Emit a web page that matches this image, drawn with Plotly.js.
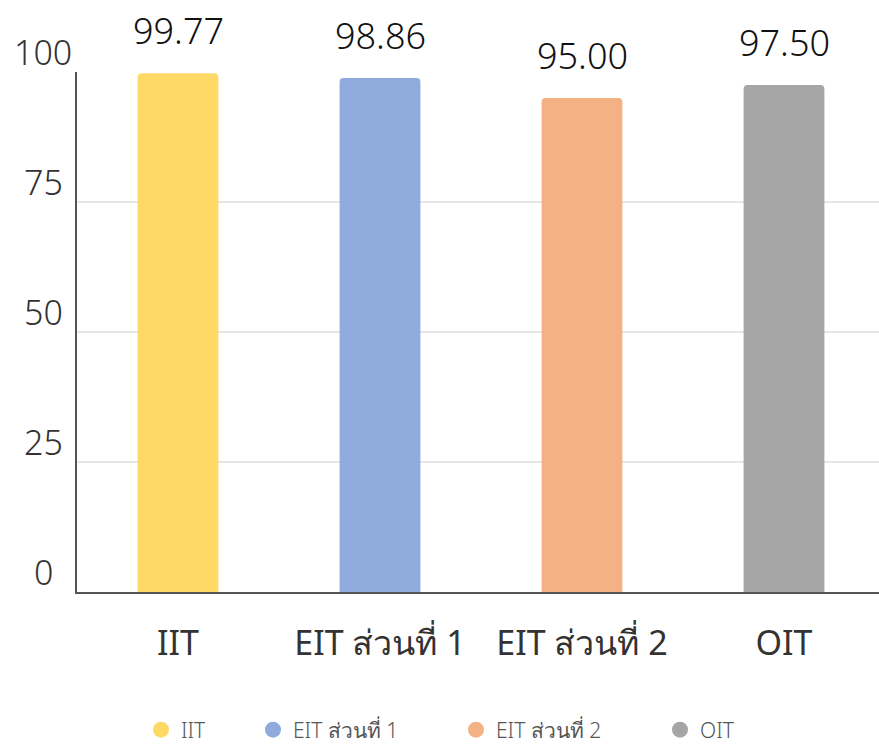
<!DOCTYPE html>
<html>
<head>
<meta charset="utf-8">
<script src="https://cdn.plot.ly/plotly-3.0.1.min.js"></script>
<style>
html,body{margin:0;padding:0;overflow:hidden;background:#fff;}
#chart{width:885px;height:745px;}
</style>
</head>
<body>
<div id="chart"></div>
<script>
const categories = ["IIT", "EIT ส่วนที่ 1", "EIT ส่วนที่ 2", "OIT"];
const scores = [99.77, 98.86, 95.00, 97.50];
const valueLabels = ["99.77", "98.86", "95.00", "97.50"];
const barColors = ["#FFD966", "#8FAADC", "#F4B183", "#A5A5A5"];
const yTickVals = [0, 25, 50, 75, 100];
const yTickText = ["0", "25", "50", "75", "100"];

const mainFont = "Noto Sans, Open Sans, sans-serif";
const W = 885;
const legendLeft = [141, 253, 456, 660];

const traces = [{
  type: "bar",
  x: categories,
  y: scores,
  marker: {color: barColors},
  width: 0.4,
  showlegend: false,
  hoverinfo: "skip"
}];
categories.forEach((c, i) => {
  traces.push({
    type: "scatter",
    mode: "markers",
    x: [null], y: [null],
    name: c,
    legend: i === 0 ? "legend" : "legend" + (i + 1),
    marker: {color: barColors[i], size: 22, symbol: "circle"},
    showlegend: true
  });
});

const annotations = [];
categories.forEach((c, i) => {
  annotations.push({
    x: c, y: scores[i], xref: "x", yref: "y",
    text: valueLabels[i], showarrow: false,
    yanchor: "bottom", yshift: 16,
    font: {family: mainFont, size: 36, color: "#111", weight: 300}
  });
});
yTickVals.forEach((v, i) => {
  annotations.push({
    x: -0.042, y: v, xref: "paper", yref: "y",
    text: yTickText[i], showarrow: false,
    xanchor: "center", yanchor: "middle", yshift: 20,
    font: {family: mainFont, size: 34, color: "#333", weight: 300}
  });
});

function legendAt(i) {
  return {
    orientation: "h", xref: "container", yref: "container",
    x: legendLeft[i] / W, xanchor: "left", y: 15 / 745, yanchor: "middle",
    font: {family: mainFont, size: 21, color: "#555", weight: 300},
    itemsizing: "trace", bgcolor: "rgba(0,0,0,0)"
  };
}

const layout = {
  width: W, height: 745,
  margin: {l: 77, r: 0, t: 72, b: 153},
  paper_bgcolor: "#fff", plot_bgcolor: "#fff",
  barcornerradius: 4,
  xaxis: {
    type: "category",
    showline: true, linecolor: "#555", linewidth: 2,
    showgrid: false, ticks: "",
    tickfont: {family: mainFont, size: 34, color: "#333", weight: 400},
    ticklabelstandoff: 20
  },
  yaxis: {
    range: [0, 100], tickvals: yTickVals, ticktext: yTickText,
    showticklabels: false,
    showline: true, linecolor: "#555", linewidth: 2,
    showgrid: true, gridcolor: "#e6e6e6", gridwidth: 2,
    zeroline: false, fixedrange: true
  },
  showlegend: true,
  legend: legendAt(0),
  legend2: legendAt(1),
  legend3: legendAt(2),
  legend4: legendAt(3),
  annotations: annotations
};

Plotly.newPlot("chart", traces, layout, {displayModeBar: false, staticPlot: true});
</script>
</body>
</html>
